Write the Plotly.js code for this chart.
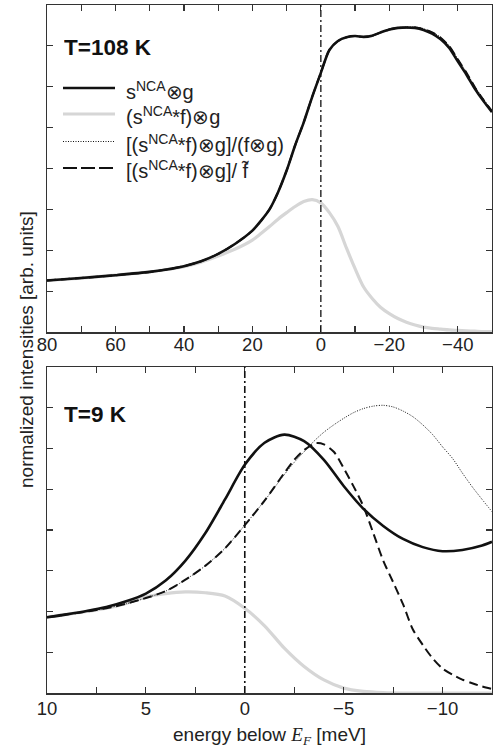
<!DOCTYPE html>
<html>
<head>
<meta charset="utf-8">
<script src="https://cdn.plot.ly/plotly-3.0.1.min.js"></script>
<style>html,body{margin:0;padding:0;background:#fff;}#chart{width:493px;height:749px;}</style>
</head>
<body>
<div id="chart"></div>
<script>
// ---------- Top panel: T = 108 K ----------
const topE = [80, 70, 60, 50, 45, 40, 35, 30, 25, 20, 17.5, 15, 12.5, 10, 7.5, 5, 2.5, 0, -2.5, -5, -7.5, -10, -12.5, -15, -17.5, -20, -22.5, -25, -27.5, -30, -32.5, -35, -37.5, -40, -42.5, -45, -47.5, -50];
const topConv = [1.26, 1.32, 1.39, 1.47, 1.53, 1.61, 1.73, 1.91, 2.16, 2.48, 2.72, 3.00, 3.42, 3.95, 4.57, 5.13, 5.76, 6.34, 6.90, 7.12, 7.21, 7.24, 7.22, 7.25, 7.33, 7.40, 7.44, 7.45, 7.44, 7.39, 7.30, 7.16, 6.95, 6.62, 6.30, 5.95, 5.65, 5.38];
const topFermi = [1.26, 1.32, 1.39, 1.47, 1.53, 1.60, 1.71, 1.86, 2.03, 2.25, 2.41, 2.58, 2.76, 2.92, 3.07, 3.19, 3.24, 3.16, 2.92, 2.58, 2.05, 1.55, 1.10, 0.82, 0.60, 0.45, 0.33, 0.24, 0.17, 0.12, 0.09, 0.07, 0.05, 0.04, 0.03, 0.02, 0.01, 0.01];
const topDivFG = [1.26, 1.32, 1.39, 1.47, 1.53, 1.61, 1.73, 1.91, 2.16, 2.48, 2.72, 3.00, 3.42, 3.95, 4.57, 5.13, 5.76, 6.34, 6.90, 7.12, 7.21, 7.24, 7.22, 7.25, 7.33, 7.40, 7.44, 7.46, 7.46, 7.42, 7.34, 7.21, 7.00, 6.68, 6.36, 6.00, 5.70, 5.42];
const topDivF = [1.26, 1.32, 1.39, 1.47, 1.53, 1.61, 1.73, 1.91, 2.16, 2.48, 2.72, 3.00, 3.42, 3.95, 4.57, 5.13, 5.76, 6.34, 6.90, 7.12, 7.21, 7.24, 7.22, 7.25, 7.33, 7.40, 7.44, 7.45, 7.45, 7.41, 7.33, 7.20, 6.99, 6.67, 6.35, 5.99, 5.68, 5.40];

// ---------- Bottom panel: T = 9 K ----------
const botE = [10, 9, 8, 7, 6, 5, 4, 3, 2, 1, 0, -1, -2, -3, -4, -5, -6, -7, -8, -9, -10, -11, -12, -12.5];
const botConv = [1.86, 1.93, 2.01, 2.11, 2.25, 2.44, 2.76, 3.25, 3.92, 4.75, 5.60, 6.14, 6.34, 6.18, 5.72, 5.08, 4.52, 4.10, 3.78, 3.58, 3.48, 3.51, 3.62, 3.71];
const botFermi = [1.86, 1.93, 2.00, 2.08, 2.20, 2.36, 2.44, 2.48, 2.46, 2.38, 2.08, 1.65, 1.10, 0.65, 0.32, 0.12, 0.04, 0.01, 0.00, 0.00, 0.00, 0.00, 0.00, 0.00];

const botDivFGE = [10, 9, 8, 7, 6, 5, 4, 3, 2, 1, 0, -1, -2, -2.5, -3, -3.5, -4, -4.5, -5, -5.5, -6, -6.5, -7, -7.5, -8, -8.5, -9, -9.5, -10, -10.5, -11, -11.5, -12, -12.5];
const botDivFG = [1.86, 1.93, 2.00, 2.08, 2.19, 2.33, 2.50, 2.78, 3.12, 3.55, 4.12, 4.72, 5.36, 5.66, 5.92, 6.18, 6.40, 6.58, 6.74, 6.88, 6.98, 7.04, 7.06, 7.02, 6.92, 6.78, 6.58, 6.34, 6.04, 5.76, 5.40, 5.06, 4.75, 4.45];

const botDivFE = [10, 9, 8, 7, 6, 5, 4, 3, 2, 1, 0, -1, -2, -2.5, -3, -3.6, -4, -4.5, -5, -5.5, -6, -6.5, -7, -7.5, -8, -8.5, -9, -9.5, -10, -10.5, -11, -11.5, -12, -12.5];
const botDivF = [1.86, 1.93, 2.00, 2.08, 2.19, 2.33, 2.50, 2.78, 3.12, 3.55, 4.12, 4.72, 5.40, 5.72, 5.96, 6.13, 6.10, 5.92, 5.52, 5.07, 4.58, 3.92, 3.25, 2.72, 2.18, 1.56, 1.18, 0.85, 0.60, 0.45, 0.33, 0.24, 0.16, 0.10];

// ---------- Text ----------
const seriesNames = [
  's<sup>NCA</sup>⊗g',
  '(s<sup>NCA</sup>*f)⊗g',
  '[(s<sup>NCA</sup>*f)⊗g]/(f⊗g)',
  '[(s<sup>NCA</sup>*f)⊗g]/ f\u0303'
];
const panelLabels = ['T=108 K', 'T=9 K'];
const topTicks = [80, 60, 40, 20, 0, -20, -40];
const botTicks = [10, 5, 0, -5, -10];
const yTitle = 'normalized intensities [arb. units]';
const xTitle = 'energy below <span style="font-family:\'Liberation Serif\',serif;"><i>E</i><sub><i>F</i></sub></span> [meV]';
const EF = 0;

// ---------- Styles ----------
const FONT = '"Liberation Sans", Arial, Helvetica, sans-serif';
const styles = [
  {color: '#111111', width: 2.6, dash: 'solid'},
  {color: '#d6d6d6', width: 3.2, dash: 'solid'},
  {color: '#111111', width: 1, dash: '1px,1.5px'},
  {color: '#111111', width: 2, dash: '9px,5px'}
];

function tr(x, y, s, xa, ya) {
  return {x: x, y: y, type: 'scatter', mode: 'lines', xaxis: xa, yaxis: ya,
    line: {color: s.color, width: s.width, dash: s.dash, shape: 'spline', smoothing: 0.8},
    showlegend: false, hoverinfo: 'skip'};
}

const data = [
  tr(topE, topFermi, styles[1], 'x', 'y'),
  tr(topE, topDivFG, styles[2], 'x', 'y'),
  tr(topE, topDivF, styles[3], 'x', 'y'),
  tr(topE, topConv, styles[0], 'x', 'y'),
  tr(botE, botFermi, styles[1], 'x2', 'y2'),
  tr(botDivFGE, botDivFG, styles[2], 'x2', 'y2'),
  tr(botDivFE, botDivF, styles[3], 'x2', 'y2'),
  tr(botE, botConv, styles[0], 'x2', 'y2')
];

const frame = {showline: true, linecolor: '#333', linewidth: 1.5, mirror: 'ticks',
  ticks: 'inside', ticklen: 6, tickwidth: 1.2, tickcolor: '#333', zeroline: false, showgrid: false,
  tickfont: {family: FONT, size: 18.5, color: '#222'}};

const W = 493, H = 749, ML = 47, MR = 1, MT = 5, MB = 56;
const pw = W - ML - MR, ph = H - MT - MB;
function px2x(p) { return (p - ML) / pw; }
function py2y(p) { return (H - MB - p) / ph; }

const legendRows = [88, 114, 141.5, 168];
const shapes = [
  {type: 'line', xref: 'x', yref: 'y domain', x0: EF, x1: EF, y0: 0, y1: 1,
   line: {color: '#111', width: 1.3, dash: '7px,3px,2px,3px'}},
  {type: 'line', xref: 'x2', yref: 'y2 domain', x0: EF, x1: EF, y0: 0, y1: 1,
   line: {color: '#111', width: 1.6, dash: '7px,3px,2px,3px'}}
];
const legendOrder = [0, 1, 2, 3];
const legendDash = ['solid', 'solid', '1px,1.5px', '14px,4px,14px,4px,14px,4px,2px,3px'];
legendOrder.forEach((k, i) => {
  shapes.push({type: 'line', xref: 'paper', yref: 'paper',
    x0: px2x(63), x1: px2x(115), y0: py2y(legendRows[i]), y1: py2y(legendRows[i]),
    line: {color: styles[k].color, width: styles[k].width, dash: legendDash[i]}});
});

const annotations = [
  {text: '<b>' + panelLabels[0] + '</b>', xref: 'paper', yref: 'paper', x: px2x(62), y: py2y(47),
   xanchor: 'left', yanchor: 'middle', width: 130, align: 'left', showarrow: false,
   font: {family: FONT, size: 22.5, color: '#111'}},
  {text: '<b>' + panelLabels[1] + '</b>', xref: 'paper', yref: 'paper', x: px2x(62), y: py2y(415),
   xanchor: 'left', yanchor: 'middle', width: 130, align: 'left', showarrow: false,
   font: {family: FONT, size: 22.5, color: '#111'}},
  {text: yTitle, xref: 'paper', yref: 'paper', x: px2x(26), y: py2y(350), textangle: -90,
   xanchor: 'center', yanchor: 'middle', showarrow: false, font: {family: FONT, size: 19, color: '#222'}}
];
legendOrder.forEach((k, i) => {
  annotations.push({text: seriesNames[k], xref: 'paper', yref: 'paper', x: px2x(124), y: py2y(legendRows[i]),
    xanchor: 'left', yanchor: 'middle', yshift: -2, width: 230, align: 'left', showarrow: false,
    font: {family: FONT, size: 20, color: '#222'}});
});

const layout = {
  width: W, height: H,
  margin: {l: ML, r: MR, t: MT, b: MB},
  paper_bgcolor: '#fff', plot_bgcolor: '#fff',
  showlegend: false,
  font: {family: FONT, color: '#222'},
  xaxis: Object.assign({}, frame, {domain: [0, 1], range: [80, -50], anchor: 'y',
    ticklabelstandoff: -5,
    tickvals: topTicks, ticktext: topTicks.map(v => v < 0 ? '\u2212' + Math.abs(v) : String(v)),
    minor: {dtick: 10, tick0: 0, ticks: 'inside', ticklen: 6, tickcolor: '#333', tickwidth: 1.2}}),
  yaxis: Object.assign({}, frame, {domain: [py2y(332), 1], range: [0, 8], anchor: 'x',
    dtick: 1, tick0: 0, showticklabels: false}),
  xaxis2: Object.assign({}, frame, {domain: [0, 1], range: [10, -12.5], anchor: 'y2',
    ticklabelstandoff: -2,
    tickvals: botTicks, ticktext: botTicks.map(v => v < 0 ? '\u2212' + Math.abs(v) : String(v)),
    minor: {dtick: 2.5, tick0: 0, ticks: 'inside', ticklen: 6, tickcolor: '#333', tickwidth: 1.2},
    title: {text: xTitle, font: {family: FONT, size: 19, color: '#222'}, standoff: 10}}),
  yaxis2: Object.assign({}, frame, {domain: [0, py2y(367)], range: [0, 8], anchor: 'x2',
    dtick: 1, tick0: 0, showticklabels: false}),
  shapes: shapes,
  annotations: annotations
};

Plotly.newPlot('chart', data, layout, {displayModeBar: false, staticPlot: true});
</script>
</body>
</html>
